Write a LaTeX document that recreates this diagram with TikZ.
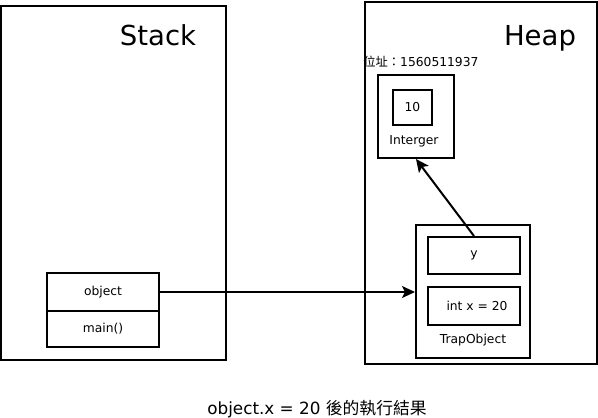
\documentclass[tikz,border=0pt]{standalone}
\usepackage{fontspec}
\setmainfont{DejaVu Sans}
\newfontfamily\cjk{Noto Sans CJK TC}
\usetikzlibrary{arrows.meta}

\begin{document}
\begin{tikzpicture}[
    x=1pt, y=-1pt,
    box/.style={draw, line width=2pt, inner sep=0pt},
    lbl/.style={font=\fontsize{12.3}{14}\selectfont},
    title/.style={font=\fontsize{27.5}{32}\selectfont},
    ref/.style={-{Stealth[length=13pt, width=12pt, inset=3pt]}},
    line width=2pt
]

    \useasboundingbox (0,0) rectangle (598,418);

    % Stack and heap frames
    \node[box, minimum width=225pt, minimum height=354pt] (stack) at (113.5,183) {};
    \node[box, minimum width=232pt, minimum height=362pt] (heap) at (481,183) {};
    \node[title] (stacktitle) at (158,35) {Stack};
    \node[title] (heaptitle) at (540,38) {Heap};

    % Frame of main()
    \node[box, minimum width=112pt, minimum height=38pt] (object) at (103,292) {};
    \node[box, minimum width=112pt, minimum height=36pt] (main) at (103,329) {};
    \node[lbl] at (object) {object};
    \node[lbl] at (main) {main()};

    % Integer object on the heap
    \node[lbl, anchor=west] (addr) at (359,62) {{\cjk 位址：}1560511937};
    \node[box, minimum width=76pt, minimum height=83pt] (interger) at (416,116.5) {};
    \node[box, minimum width=39pt, minimum height=35pt] (value) at (412.5,107.5) {};
    \node[lbl] at (value) {10};
    \node[lbl] (intlabel) at (414,141) {Interger};

    % TrapObject on the heap
    \node[box, minimum width=114pt, minimum height=133pt] (trap) at (473,291.5) {};
    \node[box, minimum width=92pt, minimum height=37pt] (ybox) at (474,255.5) {};
    \node[box, minimum width=92pt, minimum height=38pt] (xbox) at (474,306) {};
    \node[lbl] at (ybox) {y};
    \node[lbl] at (477,306) {int x = 20};
    \node[lbl] (traplabel) at (473,340) {TrapObject};

    % References
    \draw[ref] (object.east) -- (object.east -| trap.west);
    \draw[ref] (ybox.north) -- (interger.south);

    % Caption
    \node[font=\fontsize{16.8}{20}\selectfont] (caption) at (317,409) {object.x = 20 {\cjk 後的執行結果}};

\end{tikzpicture}
\end{document}
